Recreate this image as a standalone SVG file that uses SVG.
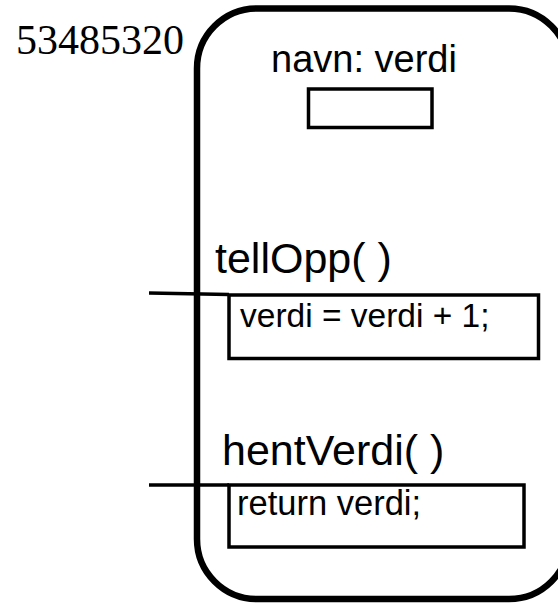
<svg xmlns="http://www.w3.org/2000/svg" width="558" height="604" viewBox="0 0 558 604">
<style>
.box{fill:none;stroke:#000;stroke-width:3.5}
.outer{fill:none;stroke:#000;stroke-width:6.5}
.conn{stroke:#000;stroke-width:3.5;fill:none}
.sans{font-family:"Liberation Sans",Arial,sans-serif;fill:#000}
.serif{font-family:"Liberation Serif","Times New Roman",serif;fill:#000}
</style>
<rect width="558" height="604" fill="#fff"/>
<g id="object">
  <rect class="outer" x="197" y="8.5" width="372" height="590.5" rx="60" ry="60"/>
  <text class="serif" x="16" y="54" font-size="42">53485320</text>
</g>
<g id="field-verdi">
  <text class="sans" x="364" y="72" font-size="38" text-anchor="middle">navn: verdi</text>
  <rect class="box" x="308.5" y="89" width="123.5" height="38.5"/>
</g>
<g id="method-tellOpp">
  <text class="sans" x="215" y="273" font-size="43">tellOpp( )</text>
  <rect class="box" x="229" y="295" width="309.5" height="63.5"/>
  <text class="sans" x="240" y="327" font-size="33.5">verdi = verdi + 1;</text>
</g>
<g id="method-hentVerdi">
  <text class="sans" x="222" y="465" font-size="43">hentVerdi( )</text>
  <rect class="box" x="229" y="485" width="295" height="62"/>
  <text class="sans" x="237" y="515" font-size="34.5">return verdi;</text>
</g>
<g id="connectors">
  <line class="conn" x1="149" y1="293" x2="229" y2="294.5"/>
  <line class="conn" x1="149" y1="485" x2="229" y2="485"/>
</g>
</svg>
